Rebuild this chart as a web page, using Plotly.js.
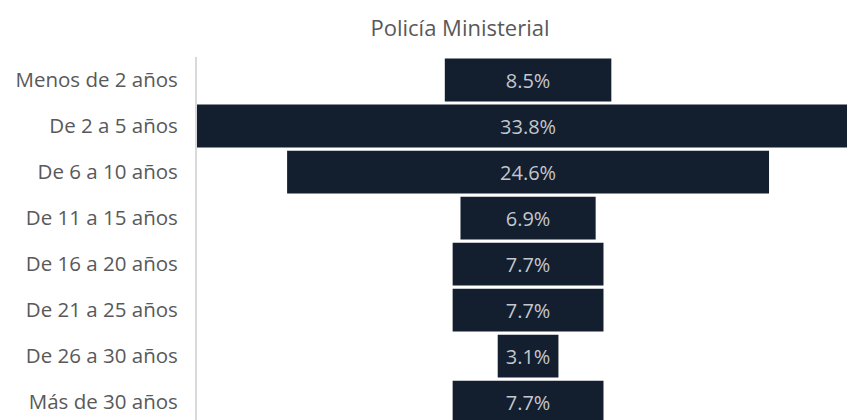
<!DOCTYPE html>
<html>
<head>
<meta charset="utf-8">
<script src="https://cdn.plot.ly/plotly-3.0.1.min.js"></script>
<style>html,body{margin:0;padding:0;background:#fff;}#chart{width:847px;height:420px;}</style>
</head>
<body>
<div id="chart"></div>
<script>
const categories = ["Menos de 2 años", "De 2 a 5 años", "De 6 a 10 años", "De 11 a 15 años", "De 16 a 20 años", "De 21 a 25 años", "De 26 a 30 años", "Más de 30 años"];
const values = [8.5, 33.8, 24.6, 6.9, 7.7, 7.7, 3.1, 7.7];
const labels = values.map(v => v.toFixed(1) + "%");

const FONT = "'Open Sans', sans-serif";

const trace = {
  type: "funnel",
  y: categories,
  x: values,
  text: labels,
  textinfo: "text",
  textposition: "inside",
  insidetextanchor: "middle",
  constraintext: "none",
  insidetextfont: {family: FONT, size: 20, color: "#c4c7cc"},
  marker: {color: "#131e2f", line: {width: 0}},
  connector: {visible: false},
  hoverinfo: "skip"
};

const layout = {
  width: 847,
  height: 420,
  margin: {l: 197, r: 0, t: 57, b: 0},
  paper_bgcolor: "#ffffff",
  plot_bgcolor: "#ffffff",
  showlegend: false,
  funnelgap: 0.07,
  title: {
    text: "Policía Ministerial",
    font: {family: FONT, size: 22, color: "#595959"},
    x: 460 / 847,
    xref: "container",
    xanchor: "center",
    y: 1 - 28 / 420,
    yref: "container",
    yanchor: "middle"
  },
  xaxis: {
    range: [-16.9, 16.28],
    showgrid: false,
    zeroline: false,
    showticklabels: false,
    showline: false,
    fixedrange: true
  },
  yaxis: {
    type: "category",
    range: [7.39, -0.5],
    showgrid: false,
    zeroline: false,
    showline: true,
    linecolor: "#d9d9d9",
    linewidth: 2,
    ticks: "",
    ticklabelstandoff: 13,
    tickfont: {family: FONT, size: 20.5, color: "#595959"},
    fixedrange: true
  }
};

Plotly.newPlot("chart", [trace], layout, {displayModeBar: false, staticPlot: true});
</script>
</body>
</html>
